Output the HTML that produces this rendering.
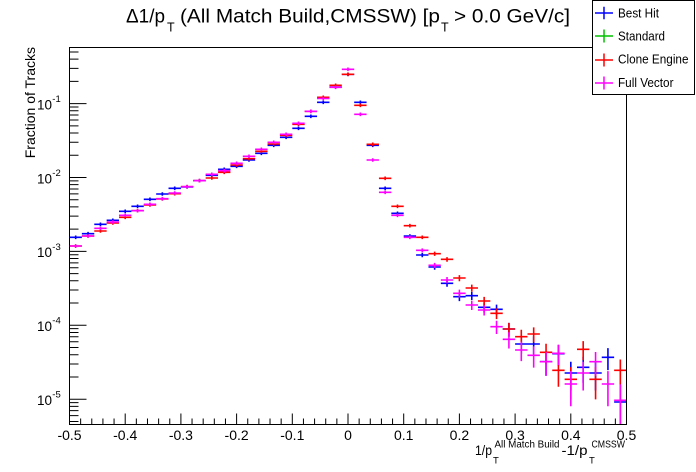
<!DOCTYPE html>
<html>
<head>
<meta charset="utf-8">
<style>
html,body{margin:0;padding:0;background:#fff;}
svg{display:block;}
text{font-family:"Liberation Sans",Arial,sans-serif;fill:#000;}
</style>
</head>
<body>
<svg width="696" height="472" viewBox="0 0 696 472" xmlns="http://www.w3.org/2000/svg">
<rect x="0" y="0" width="696" height="472" fill="#fff"/>

<!-- Title -->
<text x="126" y="22.5" font-size="19" textLength="39" lengthAdjust="spacingAndGlyphs">Δ1/p</text>
<text x="167" y="31.5" font-size="12.5">T</text>
<text x="180" y="22.5" font-size="19" textLength="260" lengthAdjust="spacingAndGlyphs">(All Match Build,CMSSW) [p</text>
<text x="441" y="31.5" font-size="12.5">T</text>
<text x="454" y="22.5" font-size="19" textLength="116" lengthAdjust="spacingAndGlyphs">&gt; 0.0 GeV/c]</text>

<!-- Data -->
<g fill="none" stroke-width="1.6">
<path stroke="#0000ff" d="M69.5 237.3h12.38M75.69 235.5V239.1M81.88 233.7h12.38M88.07 231.9V235.5M94.26 224.3h12.38M100.45 222.5V226.1M106.63 220.3h12.38M112.82 218.5V222.1M119.01 211.3h12.38M125.2 209.5V213.1M131.39 206.3h12.38M137.58 204.5V208.1M143.77 199.3h12.38M149.96 197.5V201.1M156.15 194h12.38M162.34 192.2V195.8M168.52 188.3h12.38M174.71 186.5V190.1M180.9 187h12.38M187.09 185.2V188.8M193.28 180.7h12.38M199.47 178.9V182.5M205.66 175.3h12.38M211.85 173.5V177.1M218.04 169.3h12.38M224.23 167.5V171.1M230.41 166.3h12.38M236.6 164.5V168.1M242.79 160h12.38M248.98 158.2V161.8M255.17 153.3h12.38M261.36 151.5V155.1M267.55 145.3h12.38M273.74 143.5V147.1M279.93 137.3h12.38M286.12 135.5V139.1M292.3 128.3h12.38M298.49 126.5V130.1M304.68 116.3h12.38M310.87 114.5V118.1M317.06 102.3h12.38M323.25 100.5V104.1M329.44 87h12.38M335.63 85.2V88.8M341.82 74.3h12.38M348.01 72.5V76.1M354.19 102.3h12.38M360.38 100.5V104.1M366.57 145.3h12.38M372.76 143.5V147.1M378.95 188.3h12.38M385.14 186.5V190.1M391.33 213.3h12.38M397.52 211.5V215.1M403.71 236h12.38M409.9 234.2V237.8M416.08 255h12.38M422.27 252.9V257.2M428.46 267h12.38M434.65 264.5V269.7M440.84 283.3h12.38M447.03 280.1V286.8M453.22 296.7h12.38M459.41 292.8V301.1M465.6 295.7h12.38M471.79 291.9V300M477.97 307.3h12.38M484.16 302.8V312.5M490.35 309.3h12.38M496.54 304.6V314.7M502.73 329h12.38M508.92 322.9V336.6M515.11 344h12.38M521.3 336.4V354M527.49 344h12.38M533.68 336.4V354M539.86 361.7h12.38M546.05 352V375.7M552.24 353.7h12.38M558.43 345V365.6M564.62 373h12.38M570.81 361.8V390.5M577 367.3h12.38M583.19 356.9V382.9M589.38 373h12.38M595.57 361.8V390.5M601.75 357.3h12.38M607.94 348.1V370.1M614.13 402h12.37M620.32 385.7V424.5"/>
<path stroke="#ff0000" d="M69.5 246h12.38M75.69 244.2V247.9M81.88 236h12.38M88.07 234.2V237.8M94.26 231h12.38M100.45 229.2V232.8M106.63 223h12.38M112.82 221.2V224.8M119.01 217.3h12.38M125.2 215.5V219.1M131.39 210.7h12.38M137.58 208.9V212.5M143.77 205h12.38M149.96 203.2V206.8M156.15 199h12.38M162.34 197.2V200.8M168.52 193.7h12.38M174.71 191.9V195.5M180.9 186.7h12.38M187.09 184.9V188.5M193.28 180.7h12.38M199.47 178.9V182.5M205.66 178h12.38M211.85 176.2V179.8M218.04 172.3h12.38M224.23 170.5V174.1M230.41 165h12.38M236.6 163.2V166.8M242.79 158.7h12.38M248.98 156.9V160.5M255.17 151.3h12.38M261.36 149.5V153.1M267.55 144h12.38M273.74 142.2V145.8M279.93 135.3h12.38M286.12 133.5V137.1M292.3 124.3h12.38M298.49 122.5V126.1M304.68 111.3h12.38M310.87 109.5V113.1M317.06 97.3h12.38M323.25 95.5V99.1M329.44 85.3h12.38M335.63 83.5V87.1M341.82 74.3h12.38M348.01 72.5V76.1M354.19 105.3h12.38M360.38 103.5V107.1M366.57 144.3h12.38M372.76 142.5V146.1M378.95 178.3h12.38M385.14 176.5V180.1M391.33 206.3h12.38M397.52 204.5V208.1M403.71 225.7h12.38M409.9 223.9V227.5M416.08 237.3h12.38M422.27 235.5V239.1M428.46 253.7h12.38M434.65 251.6V255.9M440.84 259.3h12.38M447.03 257.1V261.7M453.22 278h12.38M459.41 275.1V281.2M465.6 288h12.38M471.79 284.6V291.8M477.97 301h12.38M484.16 296.9V305.7M490.35 313.3h12.38M496.54 308.4V319.1M502.73 329h12.38M508.92 322.9V336.6M515.11 336.7h12.38M521.3 329.8V345.5M527.49 334h12.38M533.68 327.4V342.4M539.86 352.3h12.38M546.05 343.7V363.9M552.24 370.3h12.38M558.43 359.5V386.8M564.62 379.3h12.38M570.81 367.1V399.4M577 349.3h12.38M583.19 341.1V360.3M589.38 379.3h12.38M595.57 367.1V399.4M614.13 370.3h12.37M620.32 359.5V386.8"/>
<path stroke="#ff00ff" d="M69.5 246h12.38M75.69 244.2V247.9M81.88 236h12.38M88.07 234.2V237.8M94.26 228.3h12.38M100.45 226.5V230.1M106.63 222h12.38M112.82 220.2V223.8M119.01 215.3h12.38M125.2 213.5V217.1M131.39 210.7h12.38M137.58 208.9V212.5M143.77 204.3h12.38M149.96 202.5V206.1M156.15 198.7h12.38M162.34 196.9V200.5M168.52 193h12.38M174.71 191.2V194.8M180.9 186.7h12.38M187.09 184.9V188.5M193.28 180.7h12.38M199.47 178.9V182.5M205.66 174.3h12.38M211.85 172.5V176.1M218.04 170.7h12.38M224.23 168.9V172.5M230.41 163.3h12.38M236.6 161.5V165.1M242.79 156.3h12.38M248.98 154.5V158.1M255.17 149.3h12.38M261.36 147.5V151.1M267.55 142.3h12.38M273.74 140.5V144.1M279.93 134.3h12.38M286.12 132.5V136.1M292.3 123.3h12.38M298.49 121.5V125.1M304.68 111.3h12.38M310.87 109.5V113.1M317.06 98.5h12.38M323.25 96.7V100.3M329.44 87.3h12.38M335.63 85.5V89.1M341.82 69.3h12.38M348.01 67.5V71.1M354.19 114.3h12.38M360.38 112.5V116.1M366.57 160h12.38M372.76 158.2V161.8M378.95 192.3h12.38M385.14 190.5V194.1M391.33 215.3h12.38M397.52 213.5V217.1M403.71 237.3h12.38M409.9 235.5V239.1M416.08 250.3h12.38M422.27 248.4V252.4M428.46 265.3h12.38M434.65 262.9V267.9M440.84 280h12.38M447.03 277V283.3M453.22 293.3h12.38M459.41 289.6V297.5M465.6 305h12.38M471.79 300.6V310M477.97 310h12.38M484.16 305.3V315.5M490.35 326.7h12.38M496.54 320.8V334M502.73 339.3h12.38M508.92 332.2V348.5M515.11 350h12.38M521.3 341.7V361.1M527.49 355.3h12.38M533.68 346.4V367.6M539.86 361.7h12.38M546.05 352V375.7M552.24 353.3h12.38M558.43 344.6V365.1M564.62 384h12.38M570.81 371.1V406.2M577 373h12.38M583.19 361.8V390.5M589.38 361.7h12.38M595.57 352V375.7M601.75 384h12.38M607.94 371.1V406.2M614.13 400.3h12.37M620.32 384.4V424.5"/>
</g>

<!-- Axes frame and ticks -->
<g stroke="#000" stroke-width="1" fill="none">
<path d="M69.5 47.5H626.5V424.5H69.5Z"/>
<path d="M69.5 424.5V413.5M80.64 424.5V418.5M91.78 424.5V418.5M102.92 424.5V418.5M114.06 424.5V418.5M125.2 424.5V413.5M136.34 424.5V418.5M147.48 424.5V418.5M158.62 424.5V418.5M169.76 424.5V418.5M180.9 424.5V413.5M192.04 424.5V418.5M203.18 424.5V418.5M214.32 424.5V418.5M225.46 424.5V418.5M236.6 424.5V413.5M247.74 424.5V418.5M258.88 424.5V418.5M270.02 424.5V418.5M281.16 424.5V418.5M292.3 424.5V413.5M303.44 424.5V418.5M314.58 424.5V418.5M325.72 424.5V418.5M336.86 424.5V418.5M348 424.5V413.5M359.14 424.5V418.5M370.28 424.5V418.5M381.42 424.5V418.5M392.56 424.5V418.5M403.7 424.5V413.5M414.84 424.5V418.5M425.98 424.5V418.5M437.12 424.5V418.5M448.26 424.5V418.5M459.4 424.5V413.5M470.54 424.5V418.5M481.68 424.5V418.5M492.82 424.5V418.5M503.96 424.5V418.5M515.1 424.5V413.5M526.24 424.5V418.5M537.38 424.5V418.5M548.52 424.5V418.5M559.66 424.5V418.5M570.8 424.5V413.5M581.94 424.5V418.5M593.08 424.5V418.5M604.22 424.5V418.5M615.36 424.5V418.5M626.5 424.5V413.5"/>
<path d="M69.5 103.6H86.5M69.5 81.35H78.5M69.5 68.34H78.5M69.5 59.11H78.5M69.5 51.95H78.5M69.5 177.5H86.5M69.5 155.25H78.5M69.5 142.24H78.5M69.5 133.01H78.5M69.5 125.85H78.5M69.5 120H78.5M69.5 115.05H78.5M69.5 110.76H78.5M69.5 106.98H78.5M69.5 251.4H86.5M69.5 229.15H78.5M69.5 216.14H78.5M69.5 206.91H78.5M69.5 199.75H78.5M69.5 193.9H78.5M69.5 188.95H78.5M69.5 184.66H78.5M69.5 180.88H78.5M69.5 325.3H86.5M69.5 303.05H78.5M69.5 290.04H78.5M69.5 280.81H78.5M69.5 273.65H78.5M69.5 267.8H78.5M69.5 262.85H78.5M69.5 258.56H78.5M69.5 254.78H78.5M69.5 399.2H86.5M69.5 376.95H78.5M69.5 363.94H78.5M69.5 354.71H78.5M69.5 347.55H78.5M69.5 341.7H78.5M69.5 336.75H78.5M69.5 332.46H78.5M69.5 328.68H78.5M69.5 421.45H78.5M69.5 415.6H78.5M69.5 410.65H78.5M69.5 406.36H78.5M69.5 402.58H78.5"/>
</g>

<!-- X tick labels -->
<g font-size="14" text-anchor="middle">
<text x="69.5" y="440">-0.5</text>
<text x="125.2" y="440">-0.4</text>
<text x="180.9" y="440">-0.3</text>
<text x="236.6" y="440">-0.2</text>
<text x="292.3" y="440">-0.1</text>
<text x="348" y="440">0</text>
<text x="403.7" y="440">0.1</text>
<text x="459.4" y="440">0.2</text>
<text x="515.1" y="440">0.3</text>
<text x="570.8" y="440">0.4</text>
<text x="626.5" y="440">0.5</text>
</g>

<!-- Y tick labels -->
<g>
<text x="52" y="109.4" font-size="13.5" text-anchor="end">10</text><text x="52.3" y="102" font-size="9.5">-1</text>
<text x="52" y="183.3" font-size="13.5" text-anchor="end">10</text><text x="52.3" y="175.9" font-size="9.5">-2</text>
<text x="52" y="257.2" font-size="13.5" text-anchor="end">10</text><text x="52.3" y="249.8" font-size="9.5">-3</text>
<text x="52" y="331.1" font-size="13.5" text-anchor="end">10</text><text x="52.3" y="323.7" font-size="9.5">-4</text>
<text x="52" y="405" font-size="13.5" text-anchor="end">10</text><text x="52.3" y="397.6" font-size="9.5">-5</text>
</g>

<!-- Y axis title -->
<text transform="translate(35,47) rotate(-90)" text-anchor="end" font-size="14">Fraction of Tracks</text>

<!-- X axis title -->
<text x="475" y="455" font-size="13.5" textLength="17" lengthAdjust="spacingAndGlyphs">1/p</text>
<text x="493" y="463.3" font-size="9.5">T</text>
<text x="494.5" y="447.3" font-size="9.8" textLength="65" lengthAdjust="spacingAndGlyphs">All Match Build</text>
<text x="561.5" y="455" font-size="13.5" textLength="26" lengthAdjust="spacingAndGlyphs">-1/p</text>
<text x="589" y="463.3" font-size="9.5">T</text>
<text x="591.5" y="447.3" font-size="9.8" textLength="33.5" lengthAdjust="spacingAndGlyphs">CMSSW</text>

<!-- Legend -->
<rect x="592.5" y="0.5" width="102" height="94" fill="#fff" stroke="#000" stroke-width="1"/>
<g stroke-width="1.5" fill="none">
<path d="M595 13H613M604 6.7V19.3" stroke="#0000ff"/>
<path d="M595 36H613M604 29.5V42.5" stroke="#00c000"/>
<path d="M595 60H613M604 53.5V66.5" stroke="#ff0000"/>
<path d="M595 83H613M604 76.5V89.5" stroke="#ff00ff"/>
</g>
<g font-size="12.5">
<text x="618" y="17.3" textLength="41" lengthAdjust="spacingAndGlyphs">Best Hit</text>
<text x="618" y="40.3" textLength="47" lengthAdjust="spacingAndGlyphs">Standard</text>
<text x="618" y="63.5" textLength="70.5" lengthAdjust="spacingAndGlyphs">Clone Engine</text>
<text x="618" y="87" textLength="55.5" lengthAdjust="spacingAndGlyphs">Full Vector</text>
</g>
</svg>
</body>
</html>
